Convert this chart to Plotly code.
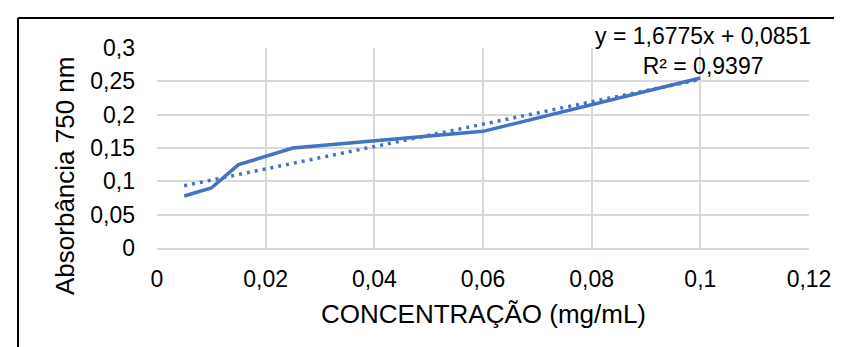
import plotly.graph_objects as go

# Data
conc = [0.005, 0.01, 0.015, 0.025, 0.06, 0.1]
absorb = [0.078, 0.09, 0.125, 0.15, 0.175, 0.255]
slope = 1.6775
intercept = 0.0851
r2 = 0.9397

x_tickvals = [0, 0.02, 0.04, 0.06, 0.08, 0.1, 0.12]
x_ticktext = ["0", "0,02", "0,04", "0,06", "0,08", "0,1", "0,12"]
y_tickvals = [0, 0.05, 0.1, 0.15, 0.2, 0.25, 0.3]
y_ticktext = ["0", "0,05", "0,1", "0,15", "0,2", "0,25", "0,3"]

x_title = "CONCENTRAÇÃO (mg/mL)"
y_title = "Absorbância 750 nm"

BLUE = "#4472C4"
GRID = "#D9D9D9"
FONT = "Liberation Sans, Arial, sans-serif"

trend_x = [conc[0], conc[-1]]
trend_y = [slope * v + intercept for v in trend_x]

def fmt(v):
    return f"{v:.4f}".replace(".", ",")

eq_text = f"y = {fmt(slope)}x + {fmt(intercept)}<br>R² = {fmt(r2)}"

fig = go.Figure()
fig.add_trace(go.Scatter(x=trend_x, y=trend_y, mode="lines",
                         line=dict(color=BLUE, width=3.5, dash="3px,5px"),
                         showlegend=False, hoverinfo="skip"))
fig.add_trace(go.Scatter(x=conc, y=absorb, mode="lines",
                         line=dict(color=BLUE, width=3.5),
                         showlegend=False))

W, H = 842, 347
L, R, T, B = 149, 41, 40, 107
pw, ph = W - L - R, H - T - B

def px_x(p):
    return (p - L) / pw

def px_y(p):
    return (H - B - p) / ph

fig.update_layout(
    width=W, height=H,
    margin=dict(l=L, r=R, t=T, b=B),
    paper_bgcolor="white", plot_bgcolor="white",
    font=dict(family=FONT, size=24, color="black"),
    xaxis=dict(range=[0, 0.12], tickvals=x_tickvals, ticktext=x_ticktext,
               showgrid=True, gridcolor=GRID, gridwidth=1.5,
               showline=True, linecolor=GRID, linewidth=1.5,
               zeroline=False, ticks="", ticklabelstandoff=10,
               tickfont=dict(size=23)),
    yaxis=dict(range=[0, 0.3], tickvals=y_tickvals, ticktext=y_ticktext,
               showgrid=True, gridcolor=GRID, gridwidth=1.5,
               showline=False, zeroline=False, ticks="",
               ticklabelstandoff=21, tickfont=dict(size=23)),
    annotations=[
        dict(text=eq_text, xref="paper", yref="paper",
             x=px_x(695), y=px_y(43), xanchor="center", yanchor="middle",
             align="center", showarrow=False, font=dict(size=23)),
        dict(text=x_title, xref="paper", yref="paper",
             x=px_x(475), y=px_y(306), xanchor="center", yanchor="middle",
             showarrow=False, font=dict(size=26)),
        dict(text=y_title, xref="paper", yref="paper", textangle=-90,
             x=px_x(57), y=px_y(168), xanchor="center", yanchor="middle",
             showarrow=False, font=dict(size=26)),
    ],
    shapes=[
        dict(type="line", xref="paper", yref="paper",
             x0=px_x(10), x1=px_x(10), y0=px_y(10), y1=px_y(H + 5),
             line=dict(color="black", width=2)),
        dict(type="line", xref="paper", yref="paper",
             x0=px_x(10), x1=px_x(W + 5), y0=px_y(10), y1=px_y(10),
             line=dict(color="black", width=2)),
    ],
)

fig.write_html("out.html")
